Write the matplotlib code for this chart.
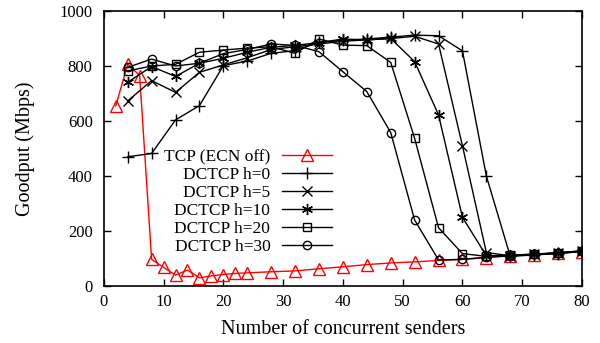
import matplotlib
matplotlib.use("Agg")
import matplotlib.pyplot as plt

# senders (x) for each run
x_tcp = [2, 4, 6, 8, 10, 12, 14, 16, 18, 20, 22, 24, 28, 32, 36, 40, 44, 48,
         52, 56, 60, 64, 68, 72, 76, 80]
tcp = [655, 807, 765, 97, 68, 40, 58, 30, 37, 42, 46, 48, 52, 55, 63, 70, 78,
       84, 88, 93, 97, 103, 110, 114, 119, 125]

x_dc = [4, 8, 12, 16, 20, 24, 28, 32, 36, 40, 44, 48, 52, 56, 60, 64, 68, 72,
        76, 80]
h0 = [470, 482, 604, 656, 801, 818, 846, 856, 886, 893, 898, 905, 912, 910,
      855, 400, 108, 113, 118, 126]
h5 = [673, 747, 704, 777, 804, 830, 860, 870, 880, 890, 895, 900, 908, 880,
      510, 122, 110, 115, 120, 127]
h10 = [741, 798, 762, 810, 828, 850, 868, 875, 885, 898, 895, 900, 816, 622,
       250, 110, 112, 116, 121, 128]
h20 = [782, 800, 806, 850, 858, 865, 870, 846, 898, 876, 874, 813, 537, 212,
       118, 108, 112, 116, 121, 128]
h30 = [795, 825, 800, 810, 845, 860, 880, 875, 852, 779, 707, 558, 240, 95,
       97, 105, 110, 115, 120, 127]

dctcp = [("DCTCP h=0", h0, "+", 8), ("DCTCP h=5", h5, "x", 7),
         ("DCTCP h=10", h10, (6, 2, 0), 8), ("DCTCP h=20", h20, "s", 6),
         ("DCTCP h=30", h30, "o", 6)]

plt.rcParams["font.family"] = ["Liberation Serif", "DejaVu Serif"]

fig = plt.figure(figsize=(6, 3.43), dpi=100)
ax = fig.add_axes([0.173, 0.166, 0.797, 0.802])

ax.plot(x_tcp, tcp, color="red", lw=1, marker="^", ms=8, mfc="none",
        mec="red", mew=1, label="TCP (ECN off)")
for name, vals, mk, ms in dctcp:
    ax.plot(x_dc, vals, color="black", lw=1, marker=mk, ms=ms, mfc="none",
            mec="black", mew=1, label=name)

ax.set_xlim(0, 80)
ax.set_ylim(0, 1000)
ax.set_xticks(range(0, 81, 10))
ax.set_yticks(range(0, 1001, 200))
ax.tick_params(direction="in", length=5, top=True, right=True, labelsize=12,
               width=1)
ax.tick_params(axis="y", pad=8)
ax.tick_params(axis="x", pad=6)
for s in ax.spines.values():
    s.set_linewidth(1.2)

ax.set_xlabel("Number of concurrent senders", fontsize=14.5, labelpad=7)
ax.set_ylabel("Goodput (Mbps)", fontsize=14.5, labelpad=18)

leg = ax.legend(loc="upper right", bbox_to_anchor=(0.477, 0.497),
                frameon=False, markerfirst=False, fontsize=12.5,
                handlelength=2.85, handletextpad=0.7, labelspacing=0.1,
                borderaxespad=0, borderpad=0)
# right-align the legend texts like gnuplot does
for col in leg._legend_handle_box.get_children():
    col.align = "right"

fig.savefig("out.png", dpi=100)
